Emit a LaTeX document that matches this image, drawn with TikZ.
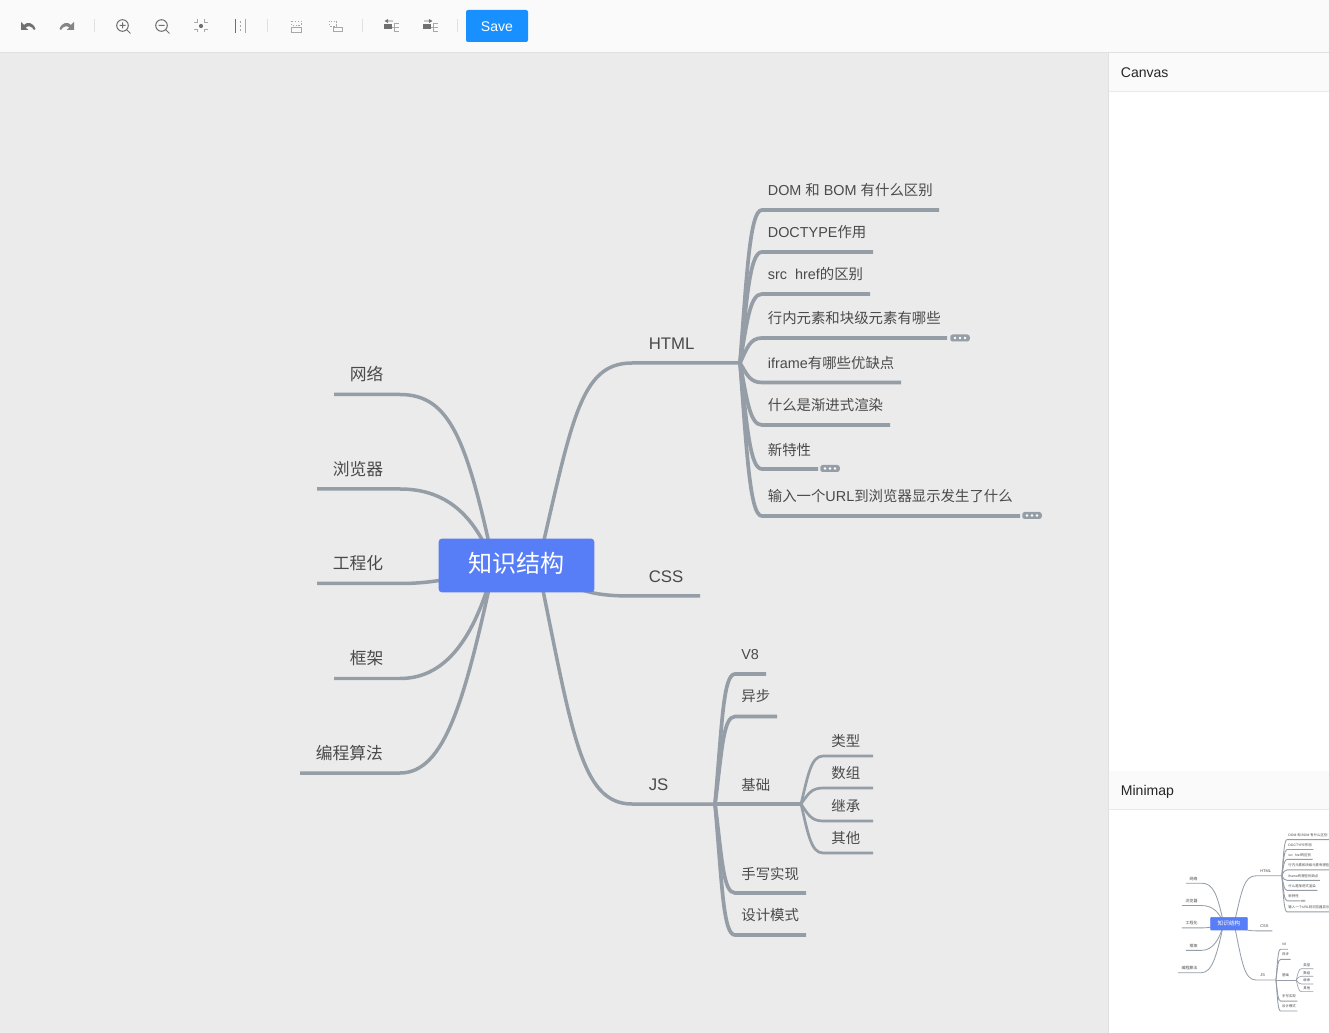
\documentclass[tikz,border=0pt]{standalone}
\usepackage{fontspec}
\setmainfont{Liberation Sans}
\newfontfamily\zhfont{Noto Sans CJK SC}
\newcommand{\zh}[1]{{\zhfont #1}}
\usetikzlibrary{positioning}
\definecolor{canvasbg}{HTML}{EBEBEB}
\definecolor{barbg}{HTML}{FAFAFA}
\definecolor{rulegray}{HTML}{E0E0E0}
\definecolor{rootblue}{HTML}{587EF7}
\definecolor{savebtn}{HTML}{1890FF}
\definecolor{edgegray}{HTML}{959EA6}
\definecolor{inkgray}{HTML}{4A4A4A}
\definecolor{icongray}{HTML}{707070}
\definecolor{icondim}{HTML}{A8A8A8}
\def\lw{.569pt}
\tikzset{
  branch/.style={draw=edgegray,line width=3.5*\lw},
  twig/.style={draw=edgegray,line width=3.7*\lw},
  subtwig/.style={draw=edgegray,line width=2.7*\lw},
  topic/.style={anchor=west,inner sep=0pt,text=inkgray,font=\fontsize{9.55}{11}\selectfont},
  leaf/.style={anchor=west,inner sep=0pt,text=inkgray,font=\fontsize{8.2}{10}\selectfont},
  rootbox/.style={fill=rootblue,draw=rootblue,rounded corners=3*\lw,minimum width=155*.569pt,
    minimum height=53*.569pt,inner sep=0pt,text=white,font=\fontsize{13.7}{16}\selectfont},
  morebtn/.style={fill=edgegray,rounded corners=2.4*\lw,minimum width=19.5*.569pt,
    minimum height=7*.569pt,inner sep=0pt},
  uitext/.style={inner sep=0pt,font=\fontsize{8}{10}\selectfont},
  panelhead/.style={uitext,anchor=base west,text=black!85},
  icon/.style={draw=icongray,line width=1*.569pt},
  icondis/.style={draw=icondim,line width=.9*.569pt},
}
\newcommand{\threedots}[2]{\foreach \d in {-5,0,5} \fill[white] (#1+\d,#2) circle (1.3);}
\newcommand{\drawmap}{
  % main topics
  \coordinate (rootl) at (494,566);
  \coordinate (rootr) at (538,566);
  \node[topic] (html) at (648.5,344) {HTML};
  \node[topic] (css) at (648.5,577) {CSS};
  \node[topic] (js) at (648.5,785) {JS};
  \coordinate (html-k) at (632,363); \coordinate (html-e) at (740,363);
  \coordinate (css-k) at (632,596);  \coordinate (css-e) at (700,596);
  \coordinate (js-k) at (632,804);   \coordinate (js-e) at (715,804);
  \draw[branch] (rootr) .. controls +(34,-146) and +(-52,0) .. (html-k) -- (html-e);
  \draw[branch] (rootr) .. controls +(34,24) and +(-42,0) .. (css-k) -- (css-e);
  \draw[branch] (rootr) .. controls +(34,164) and +(-52,0) .. (js-k) -- (js-e);
  \node[topic] (net) at (349.5,374.5) {\zh{网络}};
  \node[topic] (browser) at (332.5,469.5) {\zh{浏览器}};
  \node[topic] (eng) at (332.5,563.5) {\zh{工程化}};
  \node[topic] (frame) at (349.5,658.5) {\zh{框架}};
  \node[topic] (algo) at (315.5,753.5) {\zh{编程算法}};
  \coordinate (net-k) at (400,394.5);     \coordinate (net-e) at (334,394.5);
  \coordinate (browser-k) at (400,489);   \coordinate (browser-e) at (317,489);
  \coordinate (eng-k) at (400,583.5);     \coordinate (eng-e) at (317,583.5);
  \coordinate (frame-k) at (400,678.5);   \coordinate (frame-e) at (334,678.5);
  \coordinate (algo-k) at (400,773);      \coordinate (algo-e) at (300,773);
  \draw[branch] (rootl) .. controls +(-27,-126) and +(50,0) .. (net-k) -- (net-e);
  \draw[branch] (rootl) .. controls +(-17,-46) and +(50,0) .. (browser-k) -- (browser-e);
  \draw[branch] (rootl) .. controls +(-27,9) and +(40,0) .. (eng-k) -- (eng-e);
  \draw[branch] (rootl) .. controls +(-17,64) and +(50,0) .. (frame-k) -- (frame-e);
  \draw[branch] (rootl) .. controls +(-29,134) and +(45,0) .. (algo-k) -- (algo-e);
  % html children
  \foreach \nm/\ty/\ly/\ex/\txt in {
    dom/190.5/210/939/{DOM \zh{和} BOM \zh{有什么区别}},
    doctype/232.5/252/873/{DOCTYPE\zh{作用}},
    srchref/274.5/294/870/{src\ \ href\zh{的区别}},
    inline/318.5/338/947/{\zh{行内元素和块级元素有哪些}},
    iframe/363.5/382.5/901/{iframe\zh{有哪些优缺点}},
    progressive/405.5/425/890/{\zh{什么是渐进式渲染}},
    newfeat/449.5/469/818/{\zh{新特性}},
    urlflow/496.5/516/1020/{\zh{输入一个}URL\zh{到浏览器显示发生了什么}}} {
    \node[leaf] (\nm) at (767.5,\ty) {\txt};
    \coordinate (\nm-k) at (762,\ly);
    \coordinate (\nm-e) at (\ex,\ly);
    \pgfmathsetmacro\dy{(\ly-363)*.6}
    \draw[twig] (html-e) .. controls +(7,\dy) and +(-12,0) .. (\nm-k) -- (\nm-e);
  }
  \node[morebtn] (inline-more) at (960,338) {};   \threedots{960}{338}
  \node[morebtn] (newfeat-more) at (830,468.5) {}; \threedots{830}{468.5}
  \node[morebtn] (urlflow-more) at (1032,515.5) {}; \threedots{1032}{515.5}
  % js children
  \foreach \nm/\ty/\ly/\ex/\txt in {
    veight/654.5/674/766/{V8},
    async/696.5/716.5/777/{\zh{异步}},
    basics/785/804/801/{\zh{基础}},
    handwrite/873.5/893/806/{\zh{手写实现}},
    patterns/915.5/935/806/{\zh{设计模式}}} {
    \node[leaf] (\nm) at (741,\ty) {\txt};
    \coordinate (\nm-k) at (735,\ly);
    \coordinate (\nm-e) at (\ex,\ly);
    \pgfmathsetmacro\dy{(\ly-804)*.6}
    \draw[twig] (js-e) .. controls +(7,\dy) and +(-12,0) .. (\nm-k) -- (\nm-e);
  }
  % third level
  \foreach \nm/\ty/\ly/\txt in {
    types/741.5/756/\zh{类型},
    arrays/773.5/788/\zh{数组},
    inherit/806/821/\zh{继承},
    others/838.5/853/\zh{其他}} {
    \node[leaf] (\nm) at (831,\ty) {\txt};
    \coordinate (\nm-k) at (823,\ly);
    \coordinate (\nm-e) at (873,\ly);
    \pgfmathsetmacro\dy{(\ly-804)*.6}
    \draw[subtwig] (basics-e) .. controls +(7,\dy) and +(-12,0) .. (\nm-k) -- (\nm-e);
  }
  \node[rootbox] (root) at (516.5,565.5) {\raisebox{3.4pt}{\zh{知识结构}}};
}
\begin{document}
\begin{tikzpicture}[x=.02cm,y=-.02cm]
  \useasboundingbox (0,0) rectangle (1329,1033);
  \fill[canvasbg] (0,0) rectangle (1329,1033);
  \drawmap
  % toolbar
  \fill[barbg] (0,0) rectangle (1329,52);
  \draw[rulegray,line width=.569pt] (0,52.5) -- (1329,52.5);
  \foreach \sx in {94.5,267.5,362.5,457.5} \draw[rulegray,line width=.569pt] (\sx,19) -- (\sx,32);
  \fill[icongray] (21,22) -- (21,30) -- (28.5,30) -- (25.5,27.5) .. controls (28,25.5) and (32,26) .. (34,30) -- (35.5,29)
    .. controls (33,22) and (27,21.5) .. (24,25) -- cycle;
  \fill[icongray!85] (74,22) -- (74,30) -- (66.5,30) -- (69.5,27.5) .. controls (67,25.5) and (63,26) .. (61,30) -- (59.5,29)
    .. controls (62,22) and (68,21.5) .. (71,25) -- cycle;
  \draw[icon] (122.5,25.5) circle (5.8) (126.8,29.8) -- (130.5,33.5) (119.5,25.5) -- (125.5,25.5) (122.5,22.5) -- (122.5,28.5);
  \draw[icon] (161.5,25.5) circle (5.8) (165.8,29.8) -- (169.5,33.5) (158.5,25.5) -- (164.5,25.5);
  \fill[icongray] (201,26) circle (2.1);
  \draw[icondis] (197.5,19.5) -- (197.5,22.5) -- (194,22.5) (204.5,19.5) -- (204.5,22.5) -- (208,22.5)
    (197.5,32.5) -- (197.5,29.5) -- (194,29.5) (204.5,32.5) -- (204.5,29.5) -- (208,29.5);
  \draw[icon] (235,19) -- (235,33);
  \draw[icondis] (245,19) -- (245,33);
  \draw[icondis,dash pattern=on 2*.569pt off 2*.569pt] (240,21) -- (240,31);
  \draw[icondis,dash pattern=on 1.5*.569pt off 1.5*.569pt] (291,21) rectangle (301,25.5);
  \draw[icondis] (291,27.5) rectangle (301,32);
  \draw[icondis,dash pattern=on 1.5*.569pt off 1.5*.569pt] (329,21) rectangle (336,26);
  \draw[icondis] (333,27) rectangle (342,31);
  \fill[icongray] (384,24.5) rectangle (392,29.5);
  \draw[icondis,draw=icongray] (386,21) -- (393,21) (388,19.5) -- (385.5,21) -- (388,22.5);
  \draw[icondis] (392,27) -- (394,27) (394,23) -- (394,31) (394,23) -- (399,23) (394,27) -- (399,27) (394,31) -- (399,31);
  \fill[icongray] (423,24.5) rectangle (431,29.5);
  \draw[icondis,draw=icongray] (424,21) -- (431,21) (429,19.5) -- (431.5,21) -- (429,22.5);
  \draw[icondis] (431,27) -- (433,27) (433,23) -- (433,31) (433,23) -- (438,23) (433,27) -- (438,27) (433,31) -- (438,31);
  \fill[savebtn,rounded corners=2*.569pt] (466,10) rectangle (528,42);
  \node[uitext,text=white] (save) at (497,26.7) {Save};
  % right panel
  \fill[white] (1109,53) rectangle (1329,1033);
  \draw[rulegray,line width=.569pt] (1108.5,53) -- (1108.5,1033);
  \fill[barbg] (1109,53) rectangle (1329,91);
  \draw[rulegray!70,line width=.569pt] (1109,91.5) -- (1329,91.5);
  \node[panelhead] (canvashead) at (1120.5,77.5) {Canvas};
  \fill[barbg] (1109,771) rectangle (1329,809);
  \draw[rulegray!70,line width=.569pt] (1109,809.5) -- (1329,809.5);
  \node[panelhead] (minihead) at (1120.5,795) {Minimap};
  % minimap
  \begin{scope}
    \clip (1109,810) rectangle (1329,1033);
    \begin{scope}[name prefix=mini-,shift={(1106.85,789.9)},scale=.2365,every node/.append style={transform shape}]
      \def\lw{.1346pt}
      \drawmap
    \end{scope}
  \end{scope}
\end{tikzpicture}
\end{document}
